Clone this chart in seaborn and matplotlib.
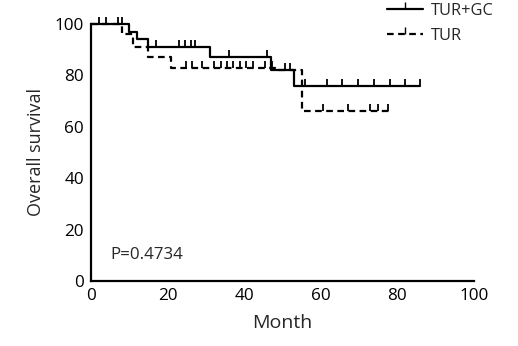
import numpy as np
import pandas as pd
import matplotlib
matplotlib.use("Agg")
import matplotlib.pyplot as plt
import seaborn as sns
from matplotlib.lines import Line2D

# ---- data ----
gc_times = [0, 10, 12, 15, 31, 47, 53, 86]
gc_surv = [100, 97, 94, 91, 87, 82, 76, 76]
gc_censor = [2, 4, 7, 8, 17, 23, 24.5, 26, 27.2, 36, 46, 56, 61.6, 65.5, 69.7, 74, 78, 82, 86]

tur_times = [0, 8, 11, 15, 21, 48.5, 55, 78]
tur_surv = [100, 96, 91, 87, 83, 82, 66, 66]
tur_censor = [24.8, 26.3, 29, 32, 34, 35.4, 37, 38.8, 40.6, 42.3, 45.4, 47.2, 50.6, 52,
              60.6, 67, 72.8, 75, 77.5]

groups = ["TUR+GC", "TUR"]
x_ticks = [0, 20, 40, 60, 80, 100]
y_ticks = [0, 20, 40, 60, 80, 100]
p_text = "P=0.4734"

sns.set_theme(style="white")
plt.rcParams["font.family"] = ["Open Sans", "DejaVu Sans"]

def step_value(times, surv, t):
    idx = np.searchsorted(times, t, side="right") - 1
    return surv[max(idx, 0)]

curves = pd.concat([
    pd.DataFrame({"Month": gc_times, "Survival": gc_surv, "Group": groups[0]}),
    pd.DataFrame({"Month": tur_times, "Survival": tur_surv, "Group": groups[1]}),
])
cens = pd.concat([
    pd.DataFrame({"Month": gc_censor,
                  "Survival": [step_value(gc_times, gc_surv, t) for t in gc_censor],
                  "Group": groups[0]}),
    pd.DataFrame({"Month": tur_censor,
                  "Survival": [step_value(tur_times, tur_surv, t) for t in tur_censor],
                  "Group": groups[1]}),
])

fig = plt.figure(figsize=(5.18, 3.46), dpi=100)
ax = fig.add_axes([91/518, 1-281/346, (474-91)/518, (281-24)/346])

for g in groups:
    d = curves[curves.Group == g]
    ls = "-" if g == groups[0] else (0, (3, 2))
    sns.lineplot(data=d, x="Month", y="Survival", ax=ax, color="black",
                 linewidth=1.6, linestyle=ls, drawstyle="steps-post",
                 estimator=None, legend=False, clip_on=False)
    c = cens[cens.Group == g]
    sns.scatterplot(data=c, x="Month", y="Survival", ax=ax, marker=2,
                    s=22, color="black", linewidth=1.3, legend=False, clip_on=False)

ax.set_xlim(0, 100)
ax.set_ylim(0, 100)
ax.set_xticks(x_ticks)
ax.set_yticks(y_ticks)
ax.tick_params(direction="in", length=4, width=1.5, labelsize=12.3, pad=5, colors="black")
for s in ["top", "right"]:
    ax.spines[s].set_visible(False)
for s in ["left", "bottom"]:
    ax.spines[s].set_linewidth(1.6)
    ax.spines[s].set_color("black")
ax.set_xlabel("Month", fontsize=14, labelpad=7)
ax.set_ylabel("Overall survival", fontsize=13, labelpad=7)
ax.text(5, 10, p_text, fontsize=12.2, va="center", ha="left")

handles = [
    Line2D([0], [0], color="black", linewidth=1.6, linestyle="-", marker=2, markersize=5),
    Line2D([0], [0], color="black", linewidth=1.6, linestyle=(0, (3, 2)), marker=2, markersize=5),
]
fig.legend(handles, groups, loc="upper left", bbox_to_anchor=(372/518, 1.035),
           frameon=False, fontsize=11.8, handlelength=2.2, handletextpad=0.5,
           labelspacing=0.55)

fig.savefig("out.png", dpi=100, facecolor="white")
